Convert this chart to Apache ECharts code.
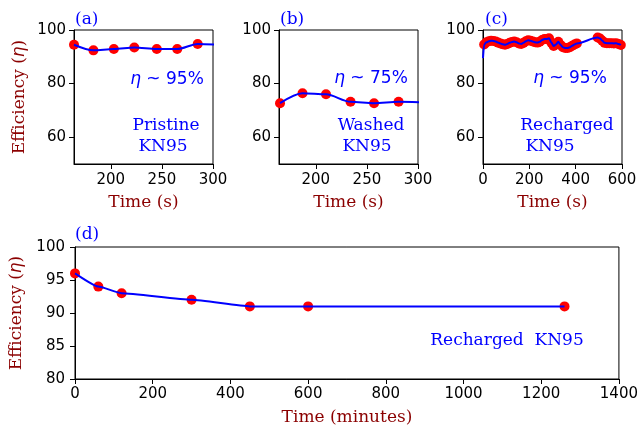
<!DOCTYPE html>
<html><head><meta charset="utf-8">
<script src="https://cdn.jsdelivr.net/npm/echarts@6/dist/echarts.min.js"></script>
<style>html,body{margin:0;padding:0;background:#fff}#c{width:641px;height:427px}</style>
</head><body><div id="c"></div>
<script>
// ---- data ----
const aTime = [164, 183, 203, 223, 245, 265, 285, 305];
const aEff  = [94.5, 92.4, 92.9, 93.5, 92.9, 92.9, 94.8, 94.5];
const bTime = [165, 187, 210, 234, 257, 281, 305];
const bEff  = [72.7, 76.4, 76.0, 73.2, 72.7, 73.2, 73.0];
const cTime = [5, 15, 25, 35, 45, 55, 65, 75, 85, 95, 105, 115, 125, 135, 145, 155, 165, 175, 185, 195,
               205, 215, 225, 235, 245, 255, 265, 275, 285, 295, 305, 315, 325, 335, 345, 355, 365, 375, 385, 395, 405,
               495, 505, 515, 525, 535, 545, 555, 565, 575, 585, 595];
const cEff  = [94.6, 95.4, 95.8, 96.0, 95.9, 95.7, 95.3, 95.0, 94.7, 94.5, 94.8, 95.2, 95.5, 95.7, 95.4, 95.0, 94.8, 95.2, 95.8, 96.2,
               96.0, 95.7, 95.4, 95.3, 95.6, 96.3, 96.6, 96.6, 96.9, 95.3, 94.0, 94.6, 95.6, 94.4, 93.6, 93.3, 93.3, 93.6, 94.1, 94.6, 95.0,
               97.2, 96.8, 96.0, 95.2, 95.1, 95.1, 95.1, 95.0, 95.1, 94.8, 94.4];
const cLineStart = [0, 89.5];
const dTime = [0, 60, 120, 300, 450, 600, 1260];
const dEff  = [96, 94, 93, 92, 91, 91, 91];
const topYTicks = [60, 80, 100];
const abXTicks = [200, 250, 300];

// ---- styles ----
const SANS = 'DejaVu Sans', SERIF = 'DejaVu Serif';
const BLUE = '#0000ff', RED = '#ff0000', DRED = '#8b0000';
const plain = v => String(v);
const tickFont = {fontFamily: SANS, fontSize: 15, color: '#000', formatter: plain};
const nameFont = {fontFamily: SERIF, fontSize: 17, color: DRED,
  rich: {i: {fontFamily: SANS, fontStyle: 'italic', fontSize: 17, color: DRED}}};

function zip(x, y) { return x.map((v, i) => [v, y[i]]); }

function xAxis(g, min, max, extra, name, margin) {
  return Object.assign({
    gridIndex: g, type: 'value', min: min, max: max,
    axisLine: {show: true, onZero: false, lineStyle: {color: '#000', width: 1}},
    axisTick: {show: true, length: 5, lineStyle: {color: '#000'}},
    axisLabel: Object.assign({margin: margin, showMinLabel: true, showMaxLabel: true}, tickFont),
    splitLine: {show: false},
    name: name, nameLocation: 'middle', nameGap: 30, nameTextStyle: nameFont
  }, extra);
}
function yAxis(g, min, max, extra, name, margin) {
  return Object.assign({
    gridIndex: g, type: 'value', min: min, max: max,
    axisLine: {show: true, onZero: false, lineStyle: {color: '#000', width: 1}},
    axisTick: {show: true, length: 5, lineStyle: {color: '#000'}},
    axisLabel: Object.assign({margin: margin}, tickFont),
    splitLine: {show: false},
    name: name || '', nameLocation: 'middle', nameGap: 46, nameTextStyle: nameFont
  }, extra);
}
function custom(vals, margin) {
  return {
    axisLabel: Object.assign({customValues: vals, margin: margin}, tickFont),
    axisTick: {show: true, length: 5, customValues: vals, lineStyle: {color: '#000'}}
  };
}

const grid = (l, t, w, h) => ({left: l, top: t, width: w, height: h, show: true,
  borderColor: '#000', borderWidth: 1, backgroundColor: 'transparent', containLabel: false});

const lineS = (g, data, sm) => ({type: 'line', xAxisIndex: g, yAxisIndex: g, data: data, showSymbol: false,
  smooth: sm, smoothMonotone: 'x', clip: true, z: 4, lineStyle: {color: BLUE, width: 2}, itemStyle: {color: BLUE},
  animation: false});
const dotS = (g, data) => ({type: 'scatter', xAxisIndex: g, yAxisIndex: g, data: data, symbolSize: 10,
  clip: true, z: 3, itemStyle: {color: RED, opacity: 1}, animation: false});

function txt(x, y, text, font, align, rich) {
  const s = {text: text, x: x, y: y, fill: BLUE, font: font, textAlign: align || 'center', textVerticalAlign: 'middle'};
  if (rich) s.rich = rich;
  return {type: 'text', style: s, z: 10};
}
const serif17 = '17px "DejaVu Serif"';
const sans17 = '17px "DejaVu Sans"';
const etaRich = {i: {fontFamily: SANS, fontStyle: 'italic', fontSize: 17, fill: BLUE, color: BLUE},
                 n: {fontFamily: SANS, fontSize: 17, fill: BLUE, color: BLUE}};

const chart = echarts.init(document.getElementById('c'), null, {renderer: 'canvas'});
chart.setOption({
  animation: false,
  backgroundColor: '#fff',
  grid: [grid(74, 30, 139, 134), grid(279, 30, 139, 134), grid(483, 30, 139, 134), grid(75, 247, 547, 134)],
  xAxis: [
    xAxis(0, 164, 300, custom(abXTicks, 9), 'Time (s)', 9),
    xAxis(1, 164, 300, custom(abXTicks, 9), 'Time (s)', 9),
    xAxis(2, 0, 600, {interval: 200}, 'Time (s)', 9),
    xAxis(3, 0, 1400, {interval: 200}, 'Time (minutes)', 8)
  ],
  yAxis: [
    yAxis(0, 50, 100, custom(topYTicks, 8), 'Efficiency ({i|η})', 8),
    yAxis(1, 50, 100, custom(topYTicks, 8), '', 8),
    yAxis(2, 50, 100, custom(topYTicks, 8), '', 8),
    yAxis(3, 80, 100, {interval: 5}, 'Efficiency ({i|η})', 10)
  ],
  series: [
    dotS(0, zip(aTime, aEff)), lineS(0, zip(aTime, aEff), 0.3),
    dotS(1, zip(bTime, bEff)), lineS(1, zip(bTime, bEff), 0.3),
    dotS(2, zip(cTime, cEff)), lineS(2, [cLineStart].concat(zip(cTime, cEff)), 0.3),
    dotS(3, zip(dTime, dEff)), lineS(3, zip(dTime, dEff), 0.15)
  ],
  graphic: [
    txt(75, 20, '(a)', serif17, 'left'),
    txt(280, 20, '(b)', serif17, 'left'),
    txt(485, 20, '(c)', serif17, 'left'),
    txt(75, 235, '(d)', serif17, 'left'),
    txt(167, 80, '{i|η} {n|~ 95%}', sans17, 'center', etaRich),
    txt(166, 126, 'Pristine', serif17),
    txt(163, 147, 'KN95', serif17),
    txt(371, 79, '{i|η} {n|~ 75%}', sans17, 'center', etaRich),
    txt(371, 126, 'Washed', serif17),
    txt(367, 147, 'KN95', serif17),
    txt(570, 79, '{i|η} {n|~ 95%}', sans17, 'center', etaRich),
    txt(567, 126, 'Recharged', serif17),
    txt(550, 147, 'KN95', serif17),
    txt(507, 341, 'Recharged  KN95', serif17)
  ]
});
</script></body></html>
